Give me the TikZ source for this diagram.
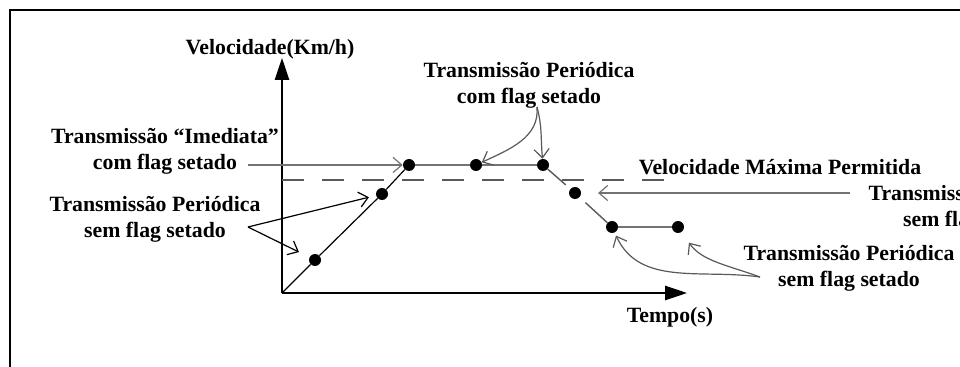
\documentclass[tikz,border=0pt]{standalone}
\usepackage{fontspec}
\setmainfont{Liberation Serif}
\usetikzlibrary{arrows.meta}
\tikzset{>=stealth}
\definecolor{segray}{gray}{0.45}
\definecolor{arrgray}{gray}{0.35}
\tikzset{
  txt/.style={font=\fontsize{15.5}{18.5}\selectfont\bfseries,align=center,inner sep=0pt},
  pt/.style={circle,fill,inner sep=0pt,minimum size=3mm},
  ptr/.style={-{Straight Barb[length=2.2mm,width=3.8mm]},line width=0.3mm},
  axis/.style={line width=0.4mm,-{Triangle[length=5.5mm,width=3.6mm]}}
}

\begin{document}
\begin{tikzpicture}[x=0.25mm,y=-0.25mm]
\useasboundingbox (0,0) rectangle (960,367);
\clip (0,0) rectangle (960,367);
\draw[line width=0.55mm] (10,367) -- (10,10) -- (960,10);
% axes
\coordinate (O) at (282,293);
\coordinate (ytop) at (282,58);
\coordinate (xend) at (687,293);
\draw[axis] (O) -- (ytop);
\draw[axis] (O) -- (xend);
\node[txt] (vel) at (270,49) {Velocidade(Km/h)};
\node[txt] (tempo) at (670,317) {Tempo(s)};
% speed limit
\coordinate (lim1) at (282,180);
\coordinate (lim2) at (668,180);
\draw[arrgray,line width=0.35mm,dash pattern=on 5.5mm off 4.5mm] (lim1) -- (lim2);
\node[txt] (vmax) at (780,167) {Velocidade Máxima Permitida};
% samples
\node[pt] (p1) at (315,260) {};
\node[pt] (p2) at (382,194) {};
\node[pt] (p3) at (409,165) {};
\node[pt] (p4) at (476,165) {};
\node[pt] (p5) at (543,165) {};
\node[pt] (p6) at (575,193) {};
\node[pt] (p7) at (612,227) {};
\node[pt] (p8) at (678,227) {};
\draw[line width=0.3mm] (O) -- (p1) -- (p2) -- (p3);
\draw[segray,line width=0.5mm] (p3) -- (p4) -- (p5);
\draw[arrgray,line width=0.35mm,shorten >=1.5mm] (p5) -- (p6);
\draw[arrgray,line width=0.35mm,shorten <=2mm] (p6) -- (p7);
\draw[segray,line width=0.5mm] (p7) -- (p8);
% labels
\node[txt] (imed) at (165,151) {Transmissão “Imediata”\\com flag setado};
\node[txt] (perL) at (155,219) {Transmissão Periódica\\sem flag setado};
\node[txt] (perT) at (529,85) {Transmissão Periódica\\com flag setado};
\node[txt] (perR) at (974,208) {Transmissão Periódica\\sem flag setado};
\node[txt] (perB) at (849,268) {Transmissão Periódica\\sem flag setado};
\coordinate (imedE) at (248,165);
\coordinate (perLE) at (248,227);
\coordinate (perTS) at (537,107);
\coordinate (perRW) at (850,193);
\coordinate (perBW) at (760,277);
\draw[ptr,segray] (imedE) -- (p3);
\draw[ptr,shorten >=1.8mm] (perLE) -- (p2);
\draw[ptr,shorten >=2.9mm] (perLE) -- (p1);
\draw[ptr,arrgray] (perTS) to[out=-85,in=25] (p4);
\draw[ptr,arrgray] (perTS) to[out=-75,in=95] (p5);
\draw[ptr,segray,shorten >=4.2mm] (perRW) -- (p6);
\draw[ptr,arrgray,shorten >=0.8mm] (perBW) to[out=172,in=-65] (p7);
\draw[ptr,arrgray,shorten >=3.2mm] (perBW) to[out=160,in=-55] (p8);
\end{tikzpicture}
\end{document}
